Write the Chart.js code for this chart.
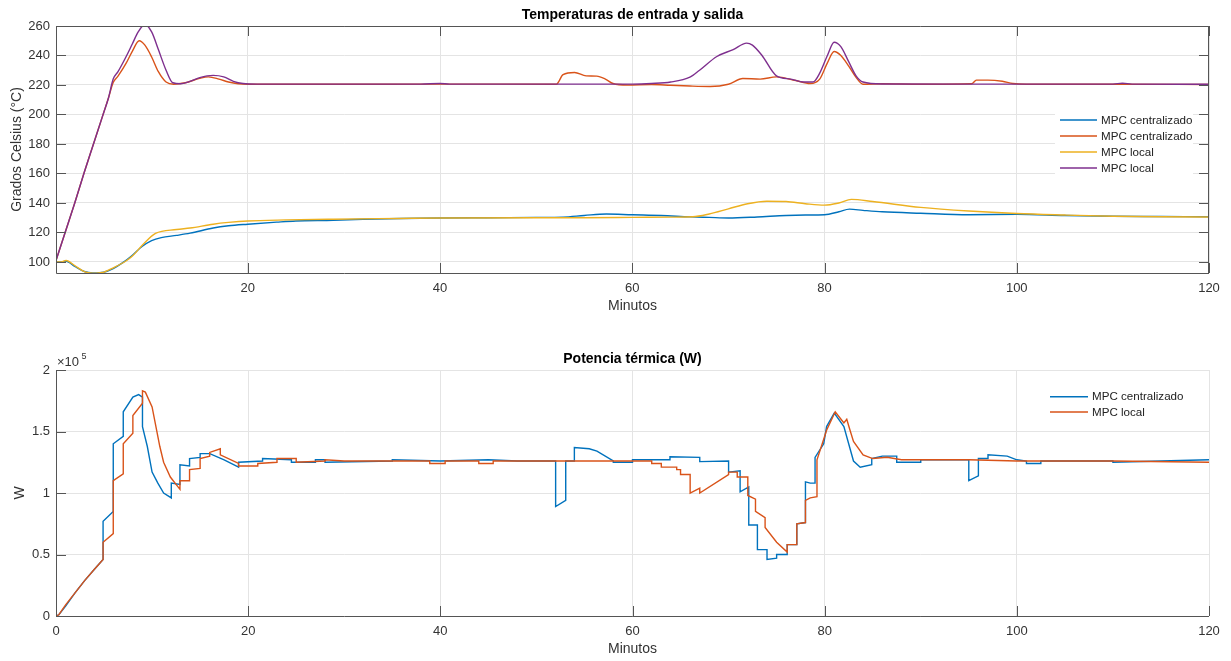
<!DOCTYPE html>
<html>
<head>
<meta charset="utf-8">
<script src="https://cdn.jsdelivr.net/npm/chart.js@4.4.1/dist/chart.umd.min.js"></script>
<style>
  body { margin: 0; background: #fff; }
  canvas { position: absolute; left: 0; }
  #tempChart { top: 0; }
  #potChart { top: 330px; }
</style>
</head>
<body>
<canvas id="tempChart" width="1231" height="330"></canvas>
<canvas id="potChart" width="1231" height="331"></canvas>
<script>
// ---- Temperaturas (°C) ----
const minCentralBaja = [0, 0.5, 1.1, 2, 3, 3.9, 5, 6, 7, 8, 9, 10, 11, 12.6, 14, 16.4, 18, 20, 23, 25, 28.9, 32, 36, 40, 45, 50, 52.8, 55, 57.3, 60, 63, 66, 68, 70, 73, 76, 78, 80, 81.5, 82.6, 84, 86, 90, 95, 100, 105, 110, 115, 120];
const tempCentralBaja = [100, 100, 100.5, 97, 93.5, 92.5, 93, 95.5, 99.5, 104.5, 110.5, 114.5, 116.5, 118, 119.5, 123, 124.5, 125.6, 127, 127.8, 128.3, 129, 129.5, 129.8, 130, 130.2, 130.4, 131.5, 132.5, 132, 131.5, 130.6, 130.2, 129.8, 130.5, 131.5, 131.8, 132, 134, 135.8, 135, 134, 133, 132, 132.3, 131.5, 131, 130.8, 130.6];

const minCentralAlta = [0, 1, 2, 3, 4, 5, 5.5, 6, 6.5, 7.35, 8, 8.7, 9.3, 10, 10.7, 11.5, 12.3, 13.5, 15, 15.9, 17, 18, 19, 20, 30, 40, 52.1, 52.8, 54, 55.2, 56.3, 57.2, 58, 59.5, 62, 64, 66, 68.1, 70, 71.5, 73.3, 75, 77, 78.5, 79.5, 80.3, 81, 81.7, 82.5, 83.3, 84, 86, 90, 95.3, 95.8, 97, 98.5, 99.6, 101, 110, 120];
const tempCentralAlta = [100, 120, 140, 161, 181, 201, 211, 221.7, 226, 234.8, 243, 250, 247, 239, 229, 222, 220.5, 221.5, 224.5, 225.5, 224, 222, 220.8, 220.5, 220.5, 220.6, 220.5, 227, 228.5, 226.2, 226, 224, 221, 220, 220.3, 219.8, 219.3, 219, 220.5, 224.4, 224, 225.5, 223, 221, 224, 235, 242.7, 240, 233, 225, 220.5, 220.8, 220.5, 220.8, 223.3, 223.3, 222.5, 221, 220.5, 220.5, 220.3];

const minLocalBaja = [0, 0.6, 1.1, 2, 3, 3.9, 5, 6, 7.4, 8, 9.1, 10.4, 12.6, 14, 16.4, 18, 20, 24, 28.9, 35.8, 40, 50, 55, 60, 64, 66.3, 68, 70, 72, 74, 76, 78, 80, 81.5, 82.8, 85, 90, 95, 100, 105, 110, 115, 120];
const tempLocalBaja = [100, 100, 101, 97.5, 93.5, 92.3, 93, 96, 101, 104, 111.8, 119.3, 122, 123, 125.6, 126.8, 127.8, 128.5, 129, 129.5, 129.8, 130, 130, 130.2, 130.4, 130.6, 132.5, 136, 139.5, 141.2, 141, 139.5, 138.5, 140, 142.4, 141, 137, 134.5, 132.8, 131.8, 131, 130.6, 130.5];

const minLocalAlta = [0, 1, 2, 3, 4, 5, 5.5, 6, 6.5, 7.35, 8, 8.6, 9.3, 10, 10.7, 11.5, 12.2, 13, 14, 15, 16.4, 17.5, 18.5, 19.5, 21, 30, 38, 40, 41, 50, 60, 62, 64, 66, 67, 68.8, 70.5, 71.9, 72.5, 73.5, 75, 76.5, 77.8, 78.8, 79.5, 80.3, 81, 81.7, 82.5, 83.3, 84, 86, 100, 110, 111, 112, 120];
const tempLocalAlta = [100, 120, 140, 161, 181, 201, 211, 224, 229, 239.3, 248, 256, 261, 256, 244, 230, 221.5, 220.8, 222.5, 225, 226.5, 225.5, 222.5, 221, 220.6, 220.6, 220.6, 221, 220.6, 220.6, 220.6, 221, 222, 225.3, 230, 239.3, 244, 248.4, 247, 240, 226.2, 224, 222, 222, 228, 240, 249, 246, 236, 226, 222, 220.7, 220.6, 220.6, 221.2, 220.6, 220.5];

// ---- Potencia térmica (x 1e5 W) ----
const minPotCentral = [0, 0.3, 1, 2, 3, 4, 4.9, 4.9, 5.96, 5.96, 7, 7, 8, 8.6, 9, 9, 9.5, 10, 10.6, 11.2, 12, 12, 12.9, 12.9, 13.9, 13.9, 15, 15, 16, 17.5, 19, 19, 21.5, 21.5, 24.5, 24.5, 27, 27, 28, 28, 35, 35, 40, 45, 48, 52, 52, 53.05, 53.05, 53.95, 53.95, 55.5, 56.3, 58, 58, 60, 60, 63.9, 63.9, 67, 67, 70, 70, 71.2, 71.2, 72.1, 72.1, 73, 73, 74, 74, 75, 75, 76.1, 76.1, 77.1, 77.1, 78, 78, 78.5, 79, 79, 79.9, 80.2, 81, 82, 83, 83.7, 84.9, 84.9, 86, 87.5, 87.5, 90, 90, 95, 95, 96, 96, 97, 97, 99, 100, 101, 101, 102.5, 102.5, 110, 110, 115, 120];
const potCentral = [0, 0.01, 0.08, 0.19, 0.29, 0.38, 0.46, 0.77, 0.85, 1.40, 1.46, 1.66, 1.78, 1.80, 1.78, 1.54, 1.38, 1.17, 1.08, 1.00, 0.96, 1.08, 1.07, 1.23, 1.22, 1.28, 1.29, 1.32, 1.32, 1.27, 1.21, 1.25, 1.26, 1.28, 1.27, 1.25, 1.25, 1.27, 1.27, 1.25, 1.26, 1.27, 1.26, 1.27, 1.26, 1.26, 0.89, 0.94, 1.26, 1.26, 1.37, 1.36, 1.34, 1.26, 1.25, 1.25, 1.27, 1.27, 1.295, 1.29, 1.255, 1.26, 1.17, 1.18, 1.01, 1.05, 0.74, 0.74, 0.54, 0.54, 0.46, 0.47, 0.50, 0.50, 0.58, 0.58, 0.75, 0.76, 1.09, 1.08, 1.08, 1.29, 1.40, 1.54, 1.65, 1.54, 1.26, 1.21, 1.23, 1.28, 1.30, 1.30, 1.25, 1.25, 1.27, 1.27, 1.10, 1.14, 1.28, 1.28, 1.31, 1.30, 1.27, 1.26, 1.24, 1.24, 1.26, 1.26, 1.25, 1.26, 1.27];

const minPotLocal = [0, 0.3, 1, 2, 3, 4, 4.9, 4.9, 5.96, 5.96, 7, 7, 8, 8, 9, 9, 9.3, 10, 10.8, 11.2, 11.9, 12.9, 12.9, 13.9, 13.9, 15, 15, 16, 16, 17.1, 17.1, 19, 19, 21, 21, 23, 23, 25, 25, 28, 28, 30, 38.9, 38.9, 40.5, 40.5, 44, 44, 45.5, 45.5, 62, 62, 63, 63, 64.6, 64.6, 65, 65, 66, 66, 67, 67, 70, 70, 70.9, 70.9, 72, 72, 72.8, 72.8, 73.8, 73.8, 75, 76.1, 76.1, 77.1, 77.1, 78, 78, 78.5, 79.2, 79.2, 80.2, 81.1, 81.7, 82, 82.3, 82.6, 83, 84, 85, 86.5, 88, 95, 100, 110, 120];
const potLocal = [0, 0.01, 0.09, 0.19, 0.29, 0.38, 0.46, 0.60, 0.67, 1.10, 1.155, 1.40, 1.485, 1.63, 1.73, 1.83, 1.82, 1.70, 1.38, 1.25, 1.13, 1.03, 1.10, 1.10, 1.19, 1.20, 1.28, 1.30, 1.33, 1.36, 1.31, 1.24, 1.22, 1.22, 1.24, 1.25, 1.28, 1.28, 1.25, 1.26, 1.27, 1.26, 1.26, 1.24, 1.24, 1.26, 1.26, 1.24, 1.24, 1.26, 1.26, 1.24, 1.24, 1.21, 1.21, 1.19, 1.19, 1.15, 1.15, 1.00, 1.04, 1.00, 1.15, 1.17, 1.17, 1.13, 1.13, 0.98, 0.95, 0.85, 0.80, 0.72, 0.60, 0.52, 0.58, 0.58, 0.75, 0.76, 0.94, 0.96, 0.97, 1.27, 1.51, 1.66, 1.60, 1.57, 1.60, 1.52, 1.42, 1.31, 1.28, 1.29, 1.27, 1.27, 1.26, 1.26, 1.25];

// ---- Ejes ----
const minutosTicks = [0, 20, 40, 60, 80, 100, 120];
const gradosTicks = [100, 120, 140, 160, 180, 200, 220, 240, 260];
const potTicks = [0, 0.5, 1, 1.5, 2];

const azul = "#0072BD", naranja = "#D95319", amarillo = "#EDB120", morado = "#7E2F8E";
const fuente = "'Liberation Sans', Arial, sans-serif";
const gris = "#333333";
Chart.defaults.font.family = fuente;

const puntos = (t, v) => t.map((x, i) => ({ x: x, y: v[i] }));

const serie = (label, t, v, color, order, suave) => ({
    label: label,
    data: puntos(t, v),
    borderColor: color,
    backgroundColor: color,
    borderWidth: 1.4,
    pointRadius: 0,
    tension: suave ? 0.4 : 0,
    cubicInterpolationMode: suave ? "monotone" : "default",
    order: order
});

// caja, ticks hacia dentro, titulo y leyenda al estilo MATLAB
const marco = {
    id: "marco",
    afterDatasetsDraw(chart, args, o) {
        const { ctx, chartArea: a, scales: { x, y } } = chart;
        const L = 10;
        ctx.save();
        ctx.lineWidth = 1;
        ctx.strokeStyle = "#555";
        ctx.beginPath();
        ctx.moveTo(a.left + 0.5, a.top);
        ctx.lineTo(a.left + 0.5, a.bottom + 0.5);
        ctx.lineTo(a.right, a.bottom + 0.5);
        if (o.caja) {
            ctx.moveTo(a.left, a.top + 0.5);
            ctx.lineTo(a.right - 0.5, a.top + 0.5);
            ctx.lineTo(a.right - 0.5, a.bottom);
        }
        x.ticks.forEach(t => {
            const px = Math.round(x.getPixelForValue(t.value)) + 0.5;
            ctx.moveTo(px, a.bottom); ctx.lineTo(px, a.bottom - L);
            if (o.caja) { ctx.moveTo(px, a.top); ctx.lineTo(px, a.top + L); }
        });
        y.ticks.forEach(t => {
            const py = Math.round(y.getPixelForValue(t.value)) + 0.5;
            ctx.moveTo(a.left, py); ctx.lineTo(a.left + L, py);
            if (o.caja) { ctx.moveTo(a.right, py); ctx.lineTo(a.right - L, py); }
        });
        ctx.stroke();

        // titulo
        ctx.fillStyle = "#000";
        ctx.font = "bold 14px " + fuente;
        ctx.textAlign = "center";
        ctx.textBaseline = "middle";
        ctx.fillText(o.titulo, (a.left + a.right) / 2, o.tituloY);

        // exponente
        if (o.exponente) {
            ctx.fillStyle = gris;
            ctx.textAlign = "left";
            ctx.font = "13px " + fuente;
            ctx.fillText("\u00d710", a.left + 1, a.top - 8);
            ctx.font = "9px " + fuente;
            ctx.fillText(o.exponente, a.left + 25.5, a.top - 13);
        }

        // leyenda
        const ley = o.leyenda;
        ctx.fillStyle = "#fff";
        ctx.fillRect(ley.caja[0], ley.caja[1], ley.caja[2], ley.caja[3]);
        ctx.font = "11.6px " + fuente;
        ctx.textAlign = "left";
        chart.data.datasets.forEach((ds, i) => {
            const yy = ley.y + i * ley.dy;
            ctx.strokeStyle = ds.borderColor;
            ctx.lineWidth = 1.4;
            ctx.beginPath();
            ctx.moveTo(ley.x, yy); ctx.lineTo(ley.x + ley.largo, yy);
            ctx.stroke();
            ctx.fillStyle = "#222";
            ctx.fillText(ds.label, ley.x + ley.largo + 4, yy + 0.5);
        });
        ctx.restore();
    }
};

const ejeX = (min, alto, padTitulo) => ({
    type: "linear",
    min: min,
    max: 120,
    afterBuildTicks: s => { s.ticks = minutosTicks.filter(v => v >= s.min).map(v => ({ value: v })); },
    afterFit: s => { s.height = alto; },
    grid: { color: "#e4e4e4", drawTicks: false },
    border: { display: false },
    ticks: { color: gris, font: { size: 13 }, padding: 8, maxRotation: 0 },
    title: { display: true, text: "Minutos", color: gris, font: { size: 14 }, padding: { top: 0, bottom: padTitulo } }
});

const ejeY = (min, max, ticks, titulo, padTitulo, fmt) => ({
    type: "linear",
    min: min,
    max: max,
    afterBuildTicks: s => { s.ticks = ticks.map(v => ({ value: v })); },
    afterFit: s => { s.width = 56; },
    grid: { color: "#e4e4e4", drawTicks: false },
    border: { display: false },
    ticks: { color: gris, font: { size: 13 }, padding: 6, callback: fmt },
    title: { display: true, text: titulo, color: gris, font: { size: 14 }, padding: { top: padTitulo, bottom: 0 } }
});

new Chart(document.getElementById("tempChart").getContext("2d"), {
    type: "line",
    data: {
        datasets: [
            serie("MPC centralizado", minCentralBaja, tempCentralBaja, azul, 4, true),
            serie("MPC centralizado", minCentralAlta, tempCentralAlta, naranja, 3, true),
            serie("MPC local", minLocalBaja, tempLocalBaja, amarillo, 2, true),
            serie("MPC local", minLocalAlta, tempLocalAlta, morado, 1, true)
        ]
    },
    options: {
        responsive: false,
        animation: false,
        layout: { padding: { top: 26, right: 22, left: 0, bottom: 0 } },
        scales: {
            x: ejeX(0.05, 57, 15.6),
            y: ejeY(92.5, 260, gradosTicks, "Grados Celsius (\u00b0C)", 8.6, v => v)
        },
        plugins: {
            legend: { display: false },
            tooltip: { enabled: false },
            marco: {
                caja: true,
                titulo: "Temperaturas de entrada y salida",
                tituloY: 15,
                leyenda: { x: 1060, y: 120, dy: 16, largo: 37, caja: [1055, 110, 138, 67] }
            }
        }
    },
    plugins: [marco]
});

new Chart(document.getElementById("potChart").getContext("2d"), {
    type: "line",
    data: {
        datasets: [
            serie("MPC centralizado", minPotCentral, potCentral, azul, 2, false),
            serie("MPC local", minPotLocal, potLocal, naranja, 1, false)
        ]
    },
    options: {
        responsive: false,
        animation: false,
        layout: { padding: { top: 40, right: 22, left: 0, bottom: 0 } },
        scales: {
            x: ejeX(0, 45, 3.6),
            y: ejeY(0, 2, potTicks, "W", 11.6, v => String(v))
        },
        plugins: {
            legend: { display: false },
            tooltip: { enabled: false },
            marco: {
                caja: false,
                titulo: "Potencia t\u00e9rmica (W)",
                tituloY: 29,
                exponente: "5",
                leyenda: { x: 1050, y: 66.7, dy: 15.3, largo: 38, caja: [1045, 55, 148, 28] }
            }
        }
    },
    plugins: [marco]
});
</script>
</body>
</html>
